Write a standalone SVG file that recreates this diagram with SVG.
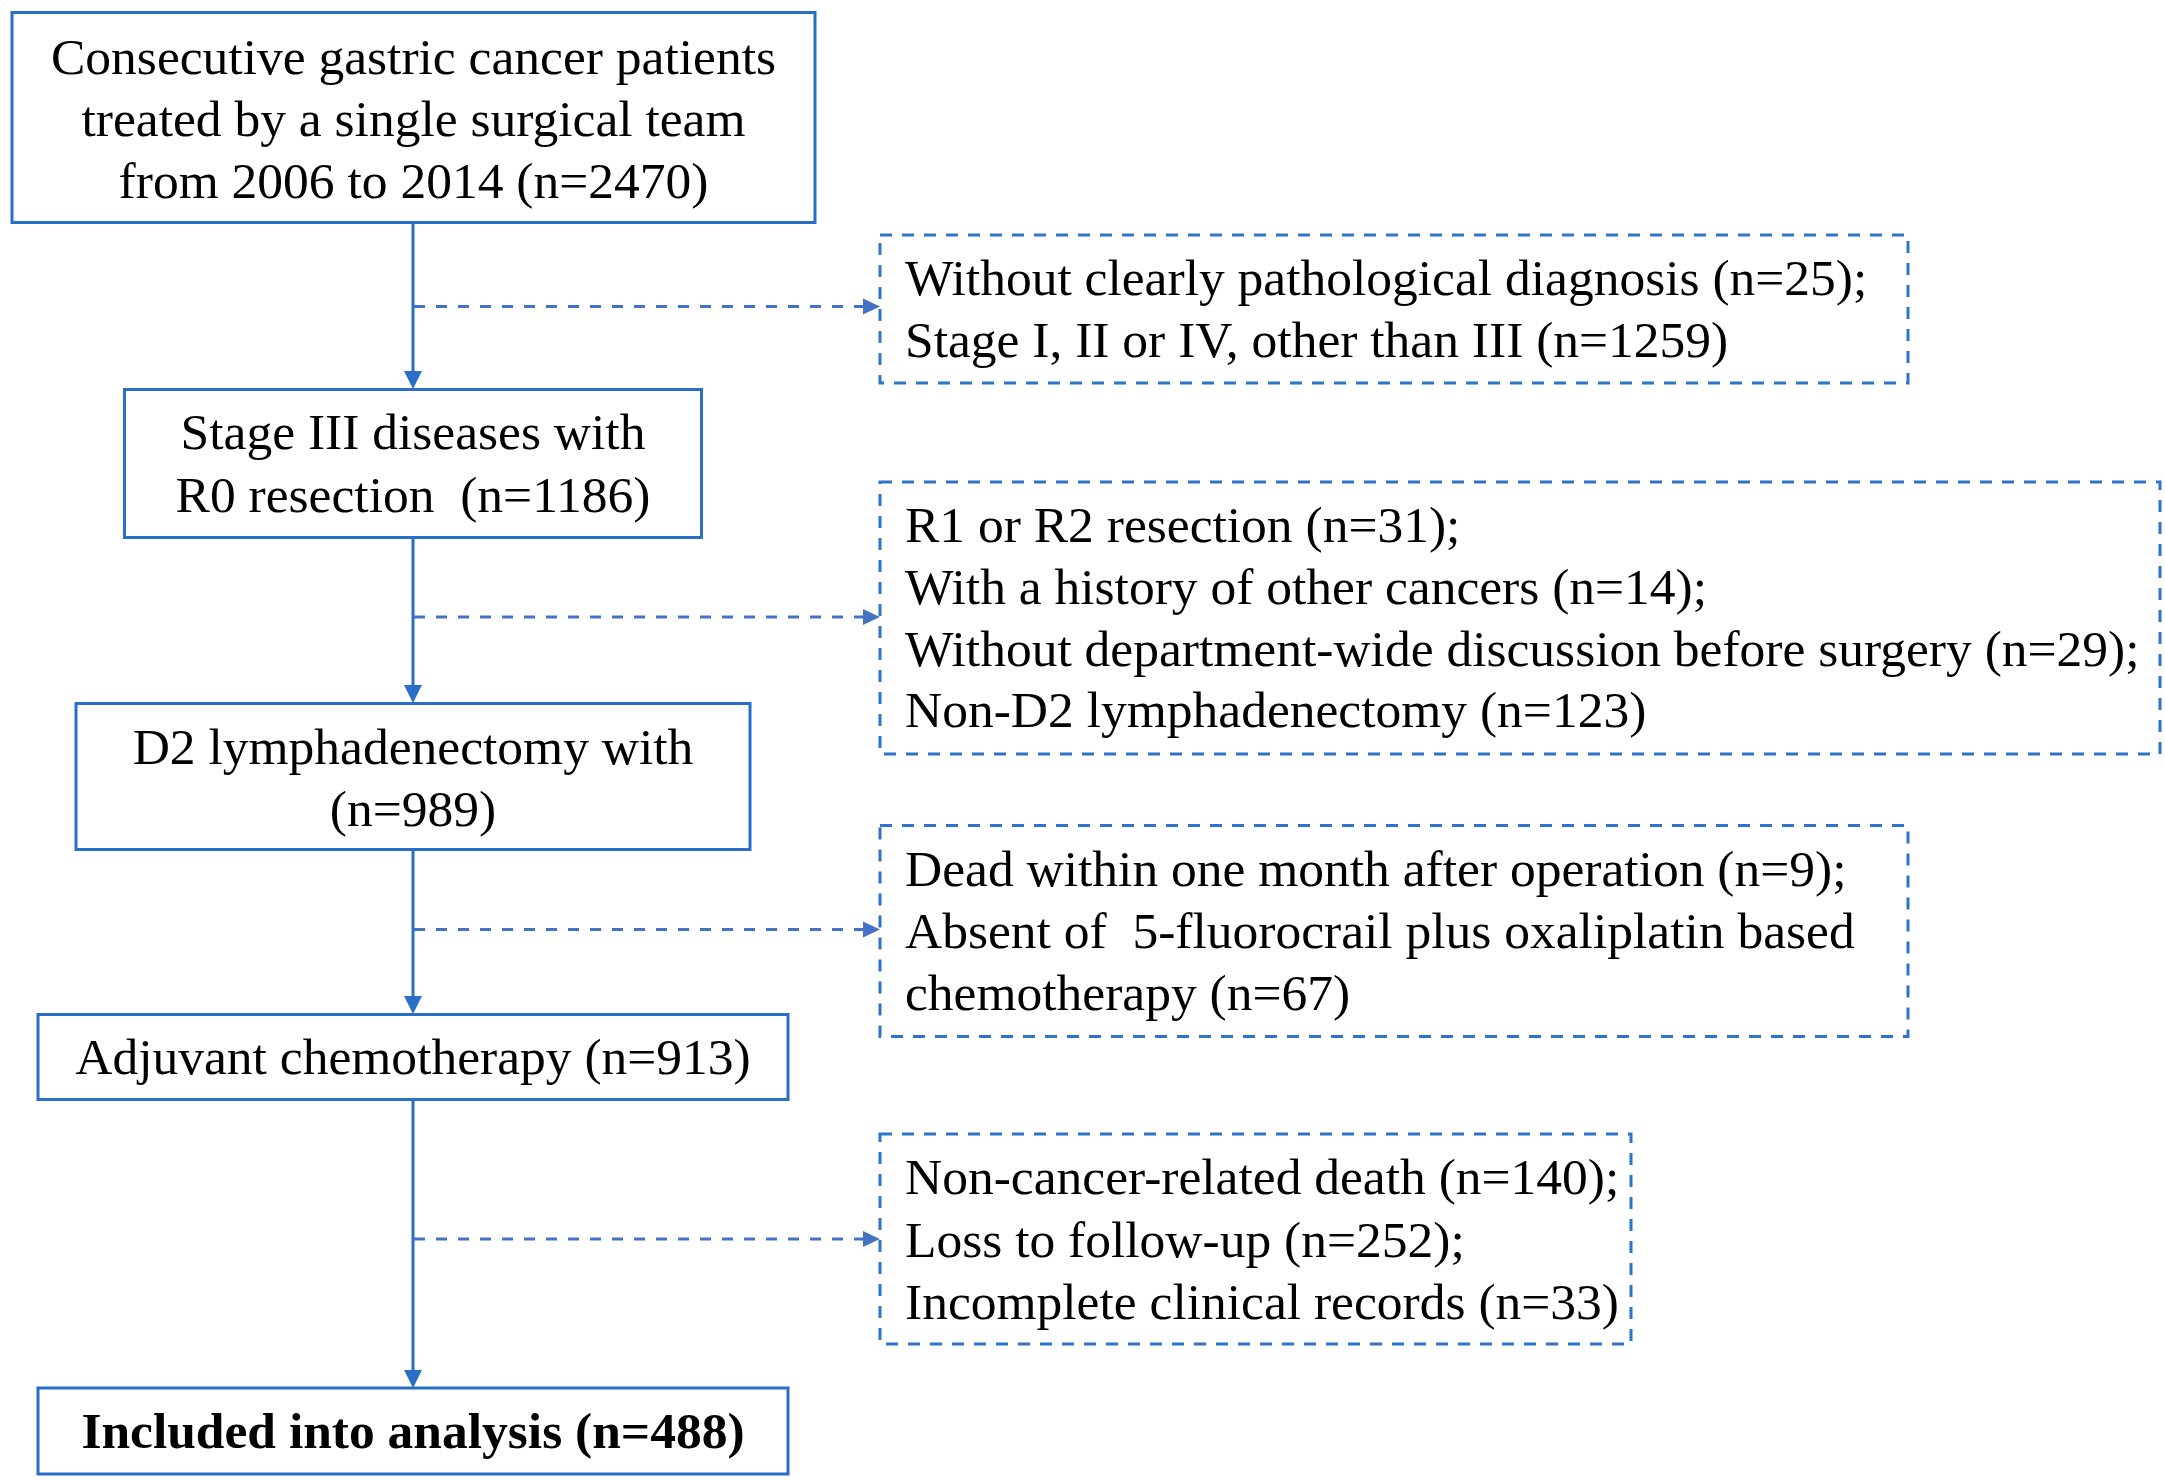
<svg xmlns="http://www.w3.org/2000/svg" width="2165" height="1482" viewBox="0 0 2165 1482">
<style>
  .box { fill: #ffffff; stroke: #2A6FC7; stroke-width: 3; }
  .dbox { fill: #ffffff; stroke: #2E74C8; stroke-width: 3; stroke-dasharray: 12 10; }
  .t { font-family: "Liberation Serif", "Times New Roman", serif; font-size: 51.5px; fill: #000000; }
  .c { text-anchor: middle; }
  .b { font-weight: bold; }
  .vline { stroke: #2A6FC7; stroke-width: 3; fill: none; }
  .hline { stroke: #4472C4; stroke-width: 3.2; fill: none; stroke-dasharray: 11 11; }
  .vhead { fill: #2A6FC7; }
  .hhead { fill: #4472C4; }
</style>
<rect width="2165" height="1482" fill="#ffffff"/>

<g id="connectors">
  <path class="vline" d="M413,222 V372"/>
  <path class="vhead" d="M404,371 L422,371 L413,389 Z"/>
  <path class="vline" d="M413,537 V686"/>
  <path class="vhead" d="M404,685 L422,685 L413,703 Z"/>
  <path class="vline" d="M413,849 V997"/>
  <path class="vhead" d="M404,996 L422,996 L413,1014 Z"/>
  <path class="vline" d="M413,1099 V1371"/>
  <path class="vhead" d="M404,1370 L422,1370 L413,1388 Z"/>

  <path class="hline" d="M414,306.5 H864"/>
  <path class="hhead" d="M863,298.5 L880,306.5 L863,314.5 Z"/>
  <path class="hline" d="M414,617 H864"/>
  <path class="hhead" d="M863,609 L880,617 L863,625 Z"/>
  <path class="hline" d="M414,929.5 H864"/>
  <path class="hhead" d="M863,921.5 L880,929.5 L863,937.5 Z"/>
  <path class="hline" d="M414,1239 H864"/>
  <path class="hhead" d="M863,1231 L880,1239 L863,1247 Z"/>
</g>

<g id="node-start">
  <rect class="box" x="12" y="12.5" width="803" height="210"/>
  <text class="t c" x="413.5" y="74">Consecutive gastric cancer patients</text>
  <text class="t c" x="413.5" y="136">treated by a single surgical team</text>
  <text class="t c" x="413.5" y="198">from 2006 to 2014 (n=2470)</text>
</g>

<g id="node-stage3">
  <rect class="box" x="124.5" y="389.5" width="577" height="148"/>
  <text class="t c" x="413" y="449">Stage III diseases with</text>
  <text class="t c" x="413" y="512" xml:space="preserve">R0 resection  (n=1186)</text>
</g>

<g id="node-d2">
  <rect class="box" x="76" y="703.5" width="674" height="146"/>
  <text class="t c" x="413" y="764">D2 lymphadenectomy with</text>
  <text class="t c" x="413" y="826">(n=989)</text>
</g>

<g id="node-adjuvant">
  <rect class="box" x="38" y="1014.5" width="750" height="85"/>
  <text class="t c" x="413" y="1074">Adjuvant chemotherapy (n=913)</text>
</g>

<g id="node-included">
  <rect class="box" x="38" y="1388" width="750" height="86"/>
  <text class="t c b" x="413" y="1448">Included into analysis (n=488)</text>
</g>

<g id="excl-1">
  <rect class="dbox" x="880" y="235" width="1028" height="148"/>
  <text class="t" x="905" y="294.5">Without clearly pathological diagnosis (n=25);</text>
  <text class="t" x="905" y="357">Stage I, II or IV, other than III (n=1259)</text>
</g>

<g id="excl-2">
  <rect class="dbox" x="880" y="482" width="1280" height="272"/>
  <text class="t" x="905" y="542">R1 or R2 resection (n=31);</text>
  <text class="t" x="905" y="604">With a history of other cancers (n=14);</text>
  <text class="t" x="905" y="665.5">Without department-wide discussion before surgery (n=29);</text>
  <text class="t" x="905" y="727">Non-D2 lymphadenectomy (n=123)</text>
</g>

<g id="excl-3">
  <rect class="dbox" x="880" y="825.5" width="1028" height="211"/>
  <text class="t" x="905" y="886">Dead within one month after operation (n=9);</text>
  <text class="t" x="905" y="948" xml:space="preserve">Absent of  5-fluorocrail plus oxaliplatin based</text>
  <text class="t" x="905" y="1010">chemotherapy (n=67)</text>
</g>

<g id="excl-4">
  <rect class="dbox" x="880" y="1134" width="751" height="210"/>
  <text class="t" x="905" y="1194">Non-cancer-related death (n=140);</text>
  <text class="t" x="905" y="1256.5">Loss to follow-up (n=252);</text>
  <text class="t" x="905" y="1319">Incomplete clinical records (n=33)</text>
</g>
</svg>
